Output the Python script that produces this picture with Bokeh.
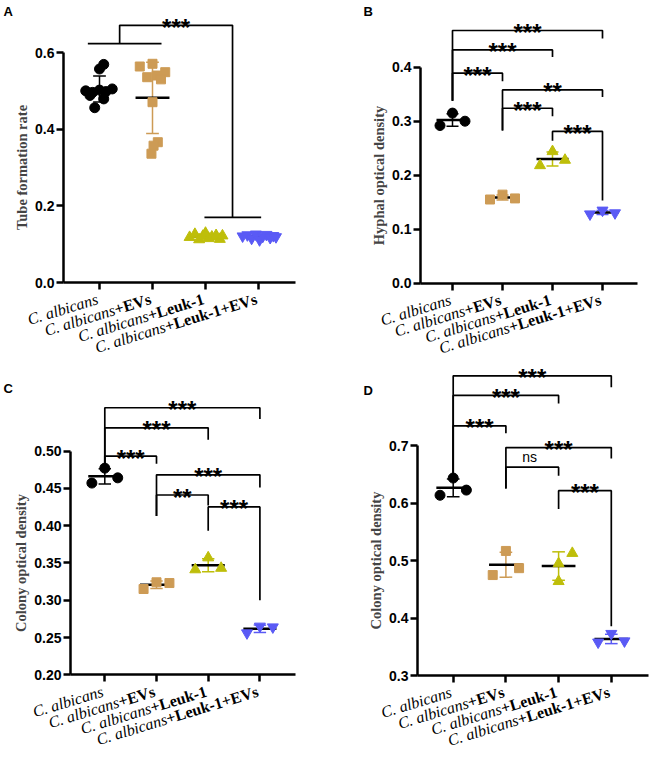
import numpy as np
from bokeh.plotting import figure
from bokeh.models import Label, FixedTicker, Range1d, PrintfTickFormatter, CustomJSTickFormatter
from bokeh.layouts import row, column
from bokeh.embed import file_html
from bokeh.resources import INLINE
from bokeh.core.properties import value

# ---------------- data ----------------
categories = ["C. albicans", "C. albicans+EVs", "C. albicans+Leuk-1", "C. albicans+Leuk-1+EVs"]
cat_italic = ["C. albicans", "C. albicans", "C. albicans", "C. albicans"]
cat_bold = ["", "+EVs", "+Leuk-1", "+Leuk-1+EVs"]

# Panel A: tube formation rate (n = 10 per group)
a_ctrl = [0.557, 0.569, 0.500, 0.496, 0.502, 0.498, 0.505, 0.479, 0.456, 0.488]
a_evs = [0.5635, 0.5706, 0.5356, 0.540, 0.5487, 0.530, 0.4704, 0.366, 0.357, 0.336]
a_leuk = [0.118, 0.126, 0.112, 0.121, 0.129, 0.115, 0.119, 0.123, 0.113, 0.122]
a_leuk_evs = [0.121, 0.124, 0.115, 0.126, 0.111, 0.120, 0.125, 0.117, 0.122, 0.119]

# Panel B: hyphal optical density (n = 3)
b_ctrl = [0.292, 0.315, 0.300]
b_evs = [0.155, 0.164, 0.157]
b_leuk = [0.218, 0.244, 0.228]
b_leuk_evs = [0.128, 0.135, 0.130]

# Panel C: colony optical density (n = 3)
c_ctrl = [0.457, 0.477, 0.464]
c_evs = [0.315, 0.324, 0.323]
c_leuk = [0.341, 0.357, 0.343]
c_leuk_evs = [0.256, 0.265, 0.264]

# Panel D: colony optical density (n = 3)
d_ctrl = [0.614, 0.644, 0.623]
d_evs = [0.475, 0.517, 0.487]
d_leuk = [0.464, 0.495, 0.513]
d_leuk_evs = [0.358, 0.373, 0.360]

# significance comparisons (group i vs group j) and their labels
b_pairs = [(1, 4), (1, 3), (1, 2), (2, 4), (2, 3), (3, 4)]
b_sig = ["***", "***", "***", "**", "***", "***"]
c_pairs = [(1, 4), (1, 3), (1, 2), (2, 4), (2, 3), (3, 4)]
c_sig = ["***", "***", "***", "***", "**", "***"]
d_pairs = [(1, 4), (1, 3), (1, 2), (2, 4), (2, 3), (3, 4)]
d_sig = ["***", "***", "***", "***", "ns", "***"]
a_sig = "***"

# ---------------- styles / layout ----------------
colors = ["#000000", "#CD9B55", "#BEBE0A", "#5A5AF5"]
markers = ["circle", "square", "triangle", "inverted_triangle"]
msizes = [10, 9, 11, 11]
jit10 = [
    [0.0, 0.08, -0.26, -0.13, 0.0, 0.12, 0.24, 0.08, -0.09, -0.18],
    [-0.24, 0.0, -0.10, 0.08, 0.24, 0.16, 0.0, 0.10, 0.02, -0.02],
    [-0.30, -0.20, -0.12, -0.05, 0.0, 0.06, 0.12, 0.20, 0.27, 0.32],
    [-0.30, -0.21, -0.13, -0.05, 0.02, 0.08, 0.15, 0.22, 0.28, 0.33],
]
jit3 = [[-0.25, 0.0, 0.25]] * 4
jit3_d = [[-0.25, 0.0, 0.25], [-0.25, 0.0, 0.25], [0.0, 0.0, 0.26], [-0.25, 0.0, 0.25]]

TIMES_BOLD = {'+': 570, 'E': 667, 'V': 722, 's': 389, 'L': 667, 'e': 444,
              'u': 556, 'k': 556, '-': 333, '1': 500}
XL_FS = 16.0
XL_ANG = np.deg2rad(17)
STAR_FS = "24px"


def make_panel(letter, ylabel, groups, jits, w, h, cat1_px, ppx, axis_px, axis_right_px,
               base_val, base_px, ppy, ytop_val, yticks, fmt, letter_pos):
    """Whole canvas is the frame; axes are placed with fixed_location."""
    xr = (1 - cat1_px / ppx, 1 - cat1_px / ppx + w / ppx)
    yr = (base_val - (h - base_px) / ppy, base_val + base_px / ppy)
    x_axis_val = 1 + (axis_px - cat1_px) / ppx
    x_right_val = 1 + (axis_right_px - cat1_px) / ppx
    p = figure(width=w, height=h, x_range=Range1d(*xr), y_range=Range1d(*yr),
               output_backend="svg", toolbar_location=None, min_border=0,
               min_border_left=0, min_border_right=0, min_border_top=0, min_border_bottom=0)
    p.grid.visible = False
    p.outline_line_color = None
    p.background_fill_color = "white"
    p.border_fill_color = "white"

    # y axis
    ya = p.yaxis[0]
    ya.fixed_location = x_axis_val
    ya.ticker = FixedTicker(ticks=yticks)
    ya.formatter = PrintfTickFormatter(format=fmt)
    ya.bounds = (base_val, ytop_val)
    ya.axis_line_width = 2.5
    ya.major_tick_line_width = 2.5
    ya.major_tick_out = 7
    ya.major_tick_in = 0
    ya.minor_tick_out = 0
    ya.minor_tick_in = 0
    ya.major_label_standoff = 2
    ya.major_label_text_font = "Liberation Sans"
    ya.major_label_text_font_style = "bold"
    ya.major_label_text_font_size = "14px"
    ya.major_label_text_color = "black"
    ya.axis_label = ylabel
    ya.axis_label_text_font = "Liberation Serif"
    ya.axis_label_text_font_style = "bold"
    ya.axis_label_text_font_size = "14.5px"
    ya.axis_label_standoff = 2

    # x axis
    xa = p.xaxis[0]
    xa.fixed_location = base_val
    xa.bounds = (x_axis_val, x_right_val)
    xa.ticker = FixedTicker(ticks=[1, 2, 3, 4])
    xa.formatter = CustomJSTickFormatter(code="return ''")
    xa.axis_line_width = 2.5
    xa.major_tick_line_width = 2.5
    xa.major_tick_out = 7
    xa.major_tick_in = 0
    xa.minor_tick_out = 0
    xa.minor_tick_in = 0

    # points with mean +- SD
    for gi, vals in enumerate(groups):
        v = np.array(vals, dtype=float)
        m = v.mean()
        s = v.std(ddof=1)
        x = gi + 1
        ec = colors[gi]
        p.segment(x0=[x], y0=[m - s], x1=[x], y1=[m + s], line_color=ec, line_width=1.5)
        p.segment(x0=[x - 0.12, x - 0.12], y0=[m - s, m + s], x1=[x + 0.12, x + 0.12],
                  y1=[m - s, m + s], line_color=ec, line_width=1.5)
        p.segment(x0=[x - 0.32], y0=[m], x1=[x + 0.32], y1=[m], line_color="black", line_width=2.5)
        xs = [x + j for j in jits[gi]]
        p.scatter(xs, list(v), marker=markers[gi], size=msizes[gi],
                  fill_color=colors[gi], line_color=colors[gi])

    # x category labels (italic species + bold treatment)
    dx, dy = -2.0, 16.0
    for i in range(4):
        wb = sum(TIMES_BOLD[c] for c in cat_bold[i]) / 1000.0 * XL_FS
        if cat_bold[i]:
            p.add_layout(Label(x=i + 1, y=base_val, x_offset=dx, y_offset=-dy, text=cat_bold[i],
                               angle=XL_ANG, text_align="right", text_baseline="alphabetic",
                               text_font="Liberation Serif", text_font_style="bold",
                               text_font_size=f"{XL_FS}px", text_color="black"))
        p.add_layout(Label(x=i + 1, y=base_val,
                           x_offset=dx - wb * np.cos(XL_ANG),
                           y_offset=-(dy + wb * np.sin(XL_ANG)),
                           text=cat_italic[i], angle=XL_ANG, text_align="right",
                           text_baseline="alphabetic", text_font="Liberation Serif",
                           text_font_style="italic", text_font_size=f"{XL_FS}px",
                           text_color="black"))

    # panel letter
    lx, ly = letter_pos
    p.add_layout(Label(x=xr[0], y=yr[1], x_offset=lx, y_offset=-ly, text=letter,
                       text_baseline="top", text_align="left", text_font="Liberation Sans",
                       text_font_style="bold", text_font_size="13px", text_color="black"))
    return p, ppy


def add_brackets(p, pairs, sig, levels, left_ends, right_ends, ppu):
    xs, ys = [], []
    tx, ty, tt, ns_x, ns_y, ns_t = [], [], [], [], [], []
    for (i, j), lab, lv, le, re in zip(pairs, sig, levels, left_ends, right_ends):
        xs.append([i, i, j, j])
        ys.append([le, lv, lv, re])
        if lab == "ns":
            ns_x.append((i + j) / 2 - 0.05)
            ns_y.append(lv + 10.0 / ppu)
            ns_t.append(lab)
        else:
            tx.append((i + j) / 2)
            ty.append(lv - 2.0 / ppu)
            tt.append(lab)
    p.multi_line(xs, ys, line_color="black", line_width=1.7)
    if tt:
        p.text(tx, ty, text=tt, text_font=value("Liberation Sans"), text_font_style="bold",
               text_font_size=STAR_FS, text_align="center", text_baseline="alphabetic",
               text_color="black")
    if ns_t:
        p.text(ns_x, ns_y, text=ns_t, text_font=value("Liberation Sans"),
               text_font_size="14px", text_align="center", text_baseline="alphabetic",
               text_color="black")


# ---------------- panel A ----------------
pA, ppuA = make_panel("A", "Tube formation rate", [a_ctrl, a_evs, a_leuk, a_leuk_evs], jit10,
                      325, 359, 99, 53.0, 63, 295, 0.0, 282, 383.3, 0.6,
                      [0, 0.2, 0.4, 0.6], "%.1f", (3, 3))
pA.multi_line([[0.78, 2.17], [2.98, 4.05], [1.38, 1.38, 3.51, 3.51]],
              [[0.623, 0.623], [0.170, 0.170], [0.623, 0.671, 0.671, 0.170]],
              line_color="black", line_width=1.7)
pA.text([(1.38 + 3.51) / 2], [0.671 - 2.0 / ppuA], text=[a_sig], text_font=value("Liberation Sans"),
        text_font_style="bold", text_font_size=STAR_FS, text_align="center",
        text_baseline="alphabetic", text_color="black")

# ---------------- panel B ----------------
pB, ppuB = make_panel("B", "Hyphal optical density", [b_ctrl, b_evs, b_leuk, b_leuk_evs], jit3,
                      324, 359, 127, 50.0, 95, 312, 0.0, 282.7, 540.0, 0.4,
                      [0, 0.1, 0.2, 0.3, 0.4], "%.1f", (38, 3))
add_brackets(pB, b_pairs, b_sig,
             [0.468, 0.432, 0.389, 0.358, 0.324, 0.281],
             [0.338, 0.338, 0.338, 0.283, 0.283, 0.264],
             [0.453, 0.419, 0.374, 0.345, 0.309, 0.153], ppuB)

# ---------------- panel C ----------------
pC, ppuC = make_panel("C", "Colony optical density", [c_ctrl, c_evs, c_leuk, c_leuk_evs], jit3,
                      325, 398, 104.3, 51.7, 70, 295, 0.2, 315.3, 746.0, 0.5,
                      [0.2, 0.25, 0.3, 0.35, 0.4, 0.45, 0.5], "%.2f", (3, 21))
add_brackets(pC, c_pairs, c_sig,
             [0.558, 0.531, 0.493, 0.468, 0.441, 0.425],
             [0.478, 0.478, 0.478, 0.413, 0.413, 0.393],
             [0.543, 0.515, 0.483, 0.451, 0.427, 0.300], ppuC)

# ---------------- panel D ----------------
pD, ppuD = make_panel("D", "Colony optical density", [d_ctrl, d_evs, d_leuk, d_leuk_evs], jit3_d,
                      324, 398, 127.7, 52.7, 92, 323, 0.3, 316, 574.0, 0.7,
                      [0.3, 0.4, 0.5, 0.6, 0.7], "%.1f", (38, 23))
add_brackets(pD, d_pairs, d_sig,
             [0.822, 0.788, 0.735, 0.697, 0.663, 0.622],
             [0.651, 0.651, 0.651, 0.626, 0.626, 0.590],
             [0.802, 0.774, 0.722, 0.678, 0.648, 0.386], ppuD)

layout = column(row(pA, pB, spacing=0), row(pC, pD, spacing=0), spacing=0)
open("out.html", "w").write(file_html(layout, INLINE))
